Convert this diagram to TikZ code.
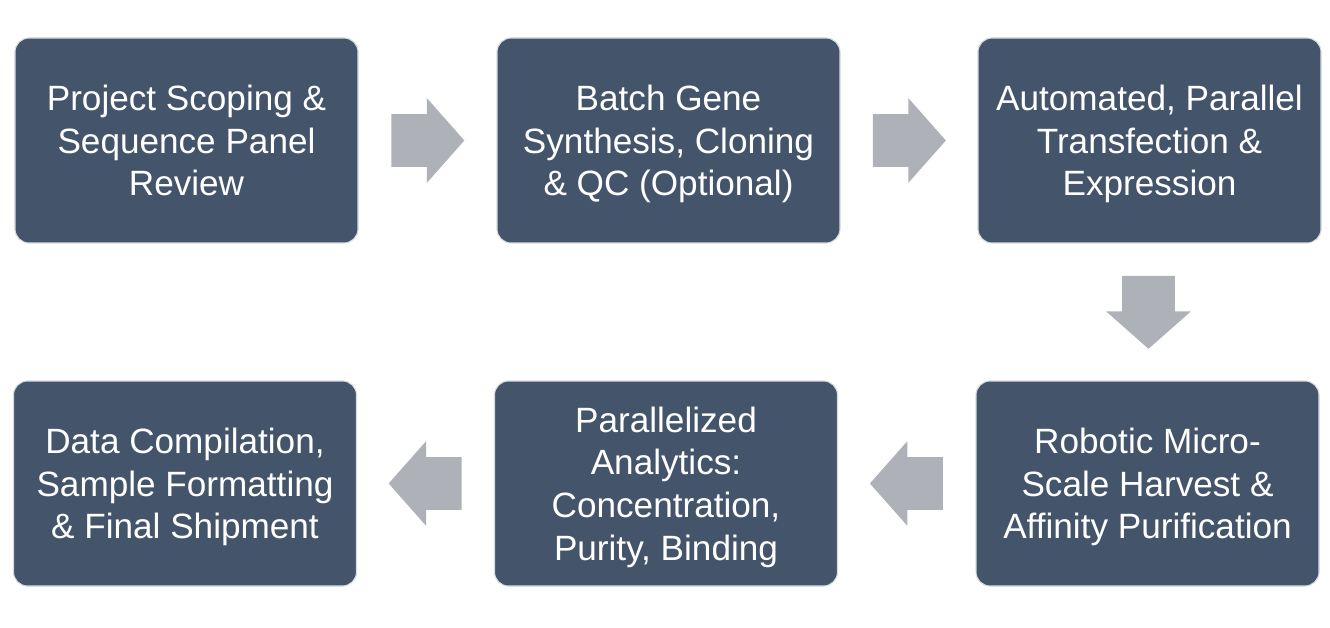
\documentclass[tikz,border=0pt]{standalone}
\usepackage{fontspec}
\setmainfont{Liberation Sans}
\usepackage{tikz}
\usetikzlibrary{shapes.arrows, calc}
\definecolor{stepblue}{RGB}{68, 84, 106}
\definecolor{stepgrey}{RGB}{174, 177, 184}
\definecolor{stepedge}{RGB}{215, 218, 224}

\begin{document}
\begin{tikzpicture}[
    stepbox/.style={rectangle, rounded corners=0.28cm, fill=stepblue, draw=stepedge, line width=0.6pt,
        minimum width=6.86cm, minimum height=4.1cm, inner sep=0pt, align=center, text=white,
        text depth=0pt, font=\fontsize{20}{24.2}\selectfont},
    blockarrow/.style={single arrow, fill=stepgrey, draw=none, inner xsep=0pt, inner ysep=0.52cm,
        minimum height=1.46cm, single arrow head extend=0.32cm, single arrow tip angle=97,
        anchor=tail}
    ]
        \useasboundingbox (0, 0) rectangle (26.6, -12.56);

        % Top row
        \node[stepbox] (scope) at (3.73, -2.81) {Project Scoping \&\\Sequence Panel\\Review};
        \node[stepbox] (synth) at (13.37, -2.81) {Batch Gene\\Synthesis, Cloning\\\& QC (Optional)};
        \node[stepbox] (transf) at (22.99, -2.81) {Automated, Parallel\\Transfection \&\\Expression};

        % Bottom row
        \node[stepbox] (ship) at (3.70, -9.67) {Data Compilation,\\Sample Formatting\\\& Final Shipment};
        \node[stepbox] (analyt) at (13.32, -9.67) {Parallelized\\Analytics:\\Concentration,\\Purity, Binding};
        \node[stepbox] (purif) at (22.95, -9.67) {Robotic Micro-\\Scale Harvest \&\\Affinity Purification};

        % Flow arrows (placed by their tail, half a length before the gap's middle)
        \node[blockarrow] (a1) at ($(scope.east)!0.5!(synth.west)+(-0.73, 0)$) {};
        \node[blockarrow] (a2) at ($(synth.east)!0.5!(transf.west)+(-0.73, 0)$) {};
        \node[blockarrow, rotate=-90] (a3) at ($(transf.south)!0.5!(purif.north)+(0, 0.73)$) {};
        \node[blockarrow, rotate=180] (a4) at ($(purif.west)!0.5!(analyt.east)+(0.73, 0)$) {};
        \node[blockarrow, rotate=180] (a5) at ($(analyt.west)!0.5!(ship.east)+(0.73, 0)$) {};

    \end{tikzpicture}
\end{document}
